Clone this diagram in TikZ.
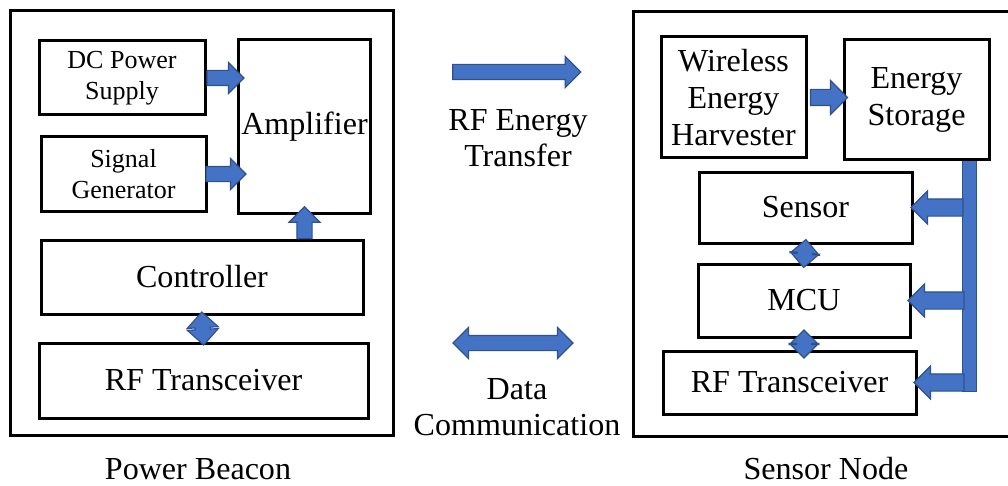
\documentclass[tikz,border=0pt]{standalone}
\usepackage{fontspec}
\setmainfont{Liberation Serif}
\usetikzlibrary{positioning,shapes.arrows}
\definecolor{arrblue}{HTML}{4472C4}
\definecolor{arrdark}{HTML}{2F528F}
\newcommand{\pxu}{0.025cm}

\begin{document}
\begin{tikzpicture}[
  x=0.025cm, y=-0.025cm,
  frame/.style={draw=black, line width=3*\pxu},
  box/.style={draw=black, line width=3*\pxu, align=center, inner sep=2pt,
              font=\fontsize{22.8}{26}\selectfont},
  smallbox/.style={box, font=\fontsize{18.5}{22}\selectfont},
  lbl/.style={align=center, font=\fontsize{22.8}{25.5}\selectfont},
  fatarr/.style={single arrow, draw=arrdark, fill=arrblue, line width=0.8pt,
                 inner xsep=0pt, inner ysep=7*\pxu,
                 single arrow head extend=8*\pxu, sloped, allow upside down},
  dblarr/.style={double arrow, draw=arrdark, fill=arrblue, line width=0.8pt,
                 inner xsep=0pt, inner ysep=7*\pxu,
                 double arrow head extend=8*\pxu, sloped, allow upside down}
]
\useasboundingbox (0,0) rectangle (1008,486);

% power beacon side
\node[frame, minimum width=383*\pxu, minimum height=424*\pxu] (pb) at (201.5,223) {};
\node[smallbox, minimum width=166*\pxu, minimum height=74*\pxu] (dc) at (122,78) {DC Power\\Supply};
\node[smallbox, minimum width=165*\pxu, minimum height=74*\pxu] (sig) at (123.5,174) {Signal\\Generator};
\node[box, minimum width=125*\pxu, minimum height=173*\pxu] (amp) at (304.5,126.5) {Amplifier};
\node[box, minimum width=322*\pxu, minimum height=74*\pxu] (ctrl) at (202,277) {Controller};
\node[box, minimum width=329*\pxu, minimum height=75*\pxu] (rfl) at (203.5,380.5) {RF Transceiver};
\node[lbl] (pbtxt) at (198,469) {Power Beacon};

\path (dc.east) -- (dc.east -| amp.west) node[fatarr, midway, minimum height=37*\pxu] {};
\path (sig.east) -- (sig.east -| amp.west) node[fatarr, midway, minimum height=40*\pxu] {};
\path (ctrl.north -| amp.south) -- (amp.south) node[fatarr, midway, minimum height=32*\pxu] {};
\path (ctrl.south) -- (rfl.north) node[dblarr, midway, minimum height=33*\pxu] {};

% sensor node side
\node[frame, minimum width=379*\pxu, minimum height=424*\pxu] (sn) at (822.5,224) {};
\node[box, minimum width=145*\pxu, minimum height=121*\pxu] (weh) at (733.5,97.5) {Wireless\\Energy\\Harvester};
\node[box, minimum width=145*\pxu, minimum height=120*\pxu] (es) at (916.5,100) {Energy\\Storage};
\node[box, minimum width=213*\pxu, minimum height=71*\pxu] (sensor) at (805.5,207.5) {Sensor};
\node[box, minimum width=212*\pxu, minimum height=73*\pxu] (mcu) at (804,300.5) {MCU};
\node[box, minimum width=253*\pxu, minimum height=63*\pxu] (rfr) at (789.5,382.5) {RF Transceiver};
\node[lbl] (sntxt) at (826,469) {Sensor Node};

\path (weh.east) -- (weh.east -| es.west) node[fatarr, midway, inner ysep=7.5*\pxu,
  single arrow head extend=9*\pxu, minimum height=37*\pxu] {};
\path (sensor.south) -- (mcu.north) node[dblarr, midway,
  double arrow head extend=7*\pxu, minimum height=28*\pxu] {};
\path (mcu.south) -- (rfr.north -| mcu.south) node[dblarr, midway,
  double arrow head extend=7*\pxu, minimum height=28*\pxu] {};

% supply bus
\coordinate (busend) at (969,392);
\draw[arrdark, line width=15*\pxu] (es.south -| busend) -- (busend);
\draw[arrblue, line width=13*\pxu, shorten >=1*\pxu] (es.south -| busend) -- (busend);
\path (busend |- sensor.east) -- (sensor.east) node[fatarr, midway, inner ysep=8*\pxu, minimum height=52*\pxu] {};
\path (busend |- mcu.east) -- (mcu.east) node[fatarr, midway, inner ysep=8*\pxu, minimum height=56*\pxu] {};
\path (busend |- rfr.east) -- (rfr.east) node[fatarr, midway, inner ysep=8*\pxu, minimum height=50*\pxu] {};

% links between the two
\path (pb.east |- 0,72) -- (sn.west |- 0,72) node[fatarr, midway, minimum height=128*\pxu] {};
\node[lbl] (rftxt) at (518,138) {RF Energy\\Transfer};
\path (pb.east |- 0,343) -- (sn.west |- 0,343) node[dblarr, midway, minimum height=120*\pxu] {};
\node[lbl] (dctxt) at (517,407) {Data\\Communication};
\end{tikzpicture}
\end{document}
